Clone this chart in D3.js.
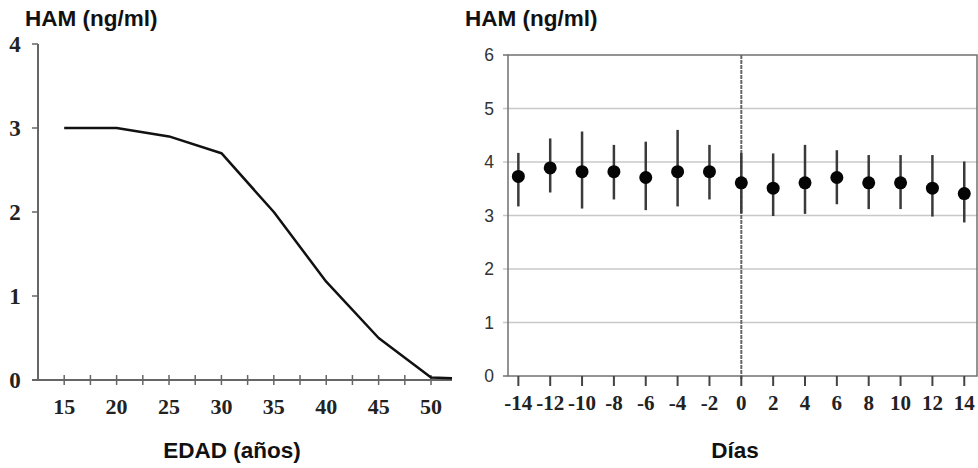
<!DOCTYPE html>
<html>
<head>
<meta charset="utf-8">
<script src="https://cdn.jsdelivr.net/npm/d3@7"></script>
<style>
  body { margin: 0; background: #fff; }
  svg { display: block; }
  .serif { font-family: "Liberation Serif", "Times New Roman", serif; font-weight: bold; }
  .sans { font-family: "Liberation Sans", Arial, sans-serif; }
</style>
</head>
<body>
<script>
// left chart: HAM by age
const ages = [15, 20, 25, 30, 35, 40, 45, 50, 52];
const hamByAge = [3, 3, 2.9, 2.7, 2.0, 1.17, 0.5, 0.03, 0.02];
const ageTicks = [15, 20, 25, 30, 35, 40, 45, 50];
const leftYTicks = [0, 1, 2, 3, 4];

// right chart: HAM by day (mean, upper, lower)
const days = [-14, -12, -10, -8, -6, -4, -2, 0, 2, 4, 6, 8, 10, 12, 14];
const hamMean = [3.73, 3.89, 3.82, 3.82, 3.71, 3.82, 3.82, 3.61, 3.51, 3.61, 3.71, 3.61, 3.61, 3.51, 3.41];
const hamUpper = [4.17, 4.44, 4.57, 4.32, 4.38, 4.6, 4.32, 4.17, 4.16, 4.32, 4.22, 4.13, 4.13, 4.13, 4.01];
const hamLower = [3.17, 3.43, 3.13, 3.3, 3.1, 3.17, 3.3, 3.04, 2.99, 3.03, 3.21, 3.12, 3.12, 2.98, 2.87];
const rightYTicks = [0, 1, 2, 3, 4, 5, 6];

const W = 978, H = 468;
const svg = d3.select("body").append("svg")
    .attr("width", W)
    .attr("height", H);

// ---------- left chart ----------
const xL = d3.scaleLinear().domain([12.5, 52]).range([38, 452]);
const yL = d3.scaleLinear().domain([0, 4]).range([380, 44]);
const axisCol = "#666";

const left = svg.append("g");

// y axis line + little ticks to the left
left.append("line")
    .attr("x1", xL(12.5)).attr("x2", xL(12.5))
    .attr("y1", yL(4)).attr("y2", yL(0) + 1)
    .attr("stroke", axisCol).attr("stroke-width", 2);
left.selectAll(".ytick").data(leftYTicks).join("line")
    .attr("x1", xL(12.5) - 6).attr("x2", xL(12.5))
    .attr("y1", d => yL(d)).attr("y2", d => yL(d))
    .attr("stroke", axisCol).attr("stroke-width", 1.5);
left.selectAll(".ylab").data(leftYTicks).join("text")
    .attr("class", "serif")
    .attr("x", 15).attr("y", d => yL(d) + 8)
    .attr("text-anchor", "middle")
    .attr("font-size", 23)
    .attr("fill", "#222")
    .text(d => d);

// x axis line with crossing ticks
left.append("line")
    .attr("x1", xL(12.5) - 6).attr("x2", xL(52))
    .attr("y1", yL(0)).attr("y2", yL(0))
    .attr("stroke", axisCol).attr("stroke-width", 2);
left.selectAll(".xtick").data(d3.range(15, 50.1, 2.5)).join("line")
    .attr("x1", d => xL(d)).attr("x2", d => xL(d))
    .attr("y1", yL(0) - 5).attr("y2", yL(0) + 5)
    .attr("stroke", axisCol).attr("stroke-width", 1.5);
left.selectAll(".xlab").data(ageTicks).join("text")
    .attr("class", "serif")
    .attr("x", d => xL(d)).attr("y", 414)
    .attr("text-anchor", "middle")
    .attr("font-size", 22)
    .attr("fill", "#222")
    .text(d => d);

const ageLine = d3.line()
    .x((d, i) => xL(ages[i]))
    .y(d => yL(d));
left.append("path")
    .attr("d", ageLine(hamByAge))
    .attr("fill", "none")
    .attr("stroke", "#111")
    .attr("stroke-width", 2.5)
    .attr("stroke-linejoin", "round");

left.append("text")
    .attr("class", "sans")
    .attr("x", 25).attr("y", 26)
    .attr("font-size", 22.5).attr("font-weight", "bold")
    .attr("fill", "#111")
    .text("HAM (ng/ml)");
left.append("text")
    .attr("class", "sans")
    .attr("x", 232).attr("y", 458)
    .attr("text-anchor", "middle")
    .attr("font-size", 22.5).attr("font-weight", "bold")
    .attr("fill", "#111")
    .text("EDAD (años)");

// ---------- right chart ----------
const xR = d3.scaleLinear().domain([-14.65, 14.8]).range([508, 977]);
const yR = d3.scaleLinear().domain([0, 6]).range([376, 55]);

const right = svg.append("g");

// grid lines
right.selectAll(".grid").data(rightYTicks.slice(1, 6)).join("line")
    .attr("x1", 503).attr("x2", 977)
    .attr("y1", d => yR(d)).attr("y2", d => yR(d))
    .attr("stroke", "#c8c8c8").attr("stroke-width", 1.5);

// frame
right.append("rect")
    .attr("x", 508).attr("y", yR(6))
    .attr("width", 977 - 508).attr("height", yR(0) - yR(6))
    .attr("fill", "none")
    .attr("stroke", "#707070").attr("stroke-width", 1.5);
right.selectAll(".ytickR").data([0, 6]).join("line")
    .attr("x1", 503).attr("x2", 508)
    .attr("y1", d => yR(d)).attr("y2", d => yR(d))
    .attr("stroke", "#707070").attr("stroke-width", 1.5);

// vertical line at day 0
right.append("line")
    .attr("x1", xR(0)).attr("x2", xR(0))
    .attr("y1", yR(6)).attr("y2", yR(0) + 4)
    .attr("stroke", "#666").attr("stroke-width", 2)
    .attr("stroke-dasharray", "4,1");

right.selectAll(".ylabR").data(rightYTicks).join("text")
    .attr("class", "sans")
    .attr("x", 494).attr("y", d => yR(d) + 6)
    .attr("text-anchor", "end")
    .attr("font-size", 17.5)
    .attr("fill", "#333")
    .text(d => d);

// x ticks
right.selectAll(".xtickR").data(days).join("line")
    .attr("x1", d => xR(d)).attr("x2", d => xR(d))
    .attr("y1", yR(0)).attr("y2", yR(0) + 10)
    .attr("stroke", "#444").attr("stroke-width", 2);
right.selectAll(".xlabR").data(days).join("text")
    .attr("class", "serif")
    .attr("x", d => xR(d)).attr("y", 410)
    .attr("text-anchor", "middle")
    .attr("font-size", 21)
    .attr("fill", "#222")
    .text(d => d);

// error bars + means
right.selectAll(".err").data(days).join("line")
    .attr("x1", d => xR(d)).attr("x2", d => xR(d))
    .attr("y1", (d, i) => yR(hamUpper[i]))
    .attr("y2", (d, i) => yR(hamLower[i]))
    .attr("stroke", "#3a3a3a").attr("stroke-width", 2.5);
right.selectAll(".pt").data(days).join("circle")
    .attr("cx", d => xR(d))
    .attr("cy", (d, i) => yR(hamMean[i]))
    .attr("r", 6.5)
    .attr("fill", "#050505");

right.append("text")
    .attr("class", "sans")
    .attr("x", 465).attr("y", 26)
    .attr("font-size", 22.5).attr("font-weight", "bold")
    .attr("fill", "#111")
    .text("HAM (ng/ml)");
right.append("text")
    .attr("class", "sans")
    .attr("x", 735).attr("y", 458)
    .attr("text-anchor", "middle")
    .attr("font-size", 22.5).attr("font-weight", "bold")
    .attr("fill", "#111")
    .text("Días");
</script>
</body>
</html>
